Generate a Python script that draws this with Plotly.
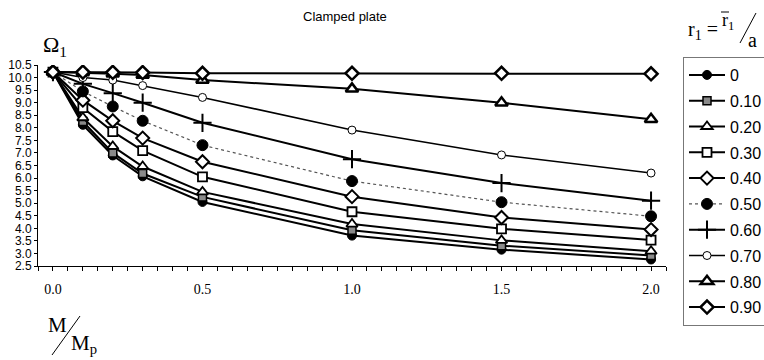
import plotly.graph_objects as go

# ---- data ----
x_vals = [0.0, 0.1, 0.2, 0.3, 0.5, 1.0, 1.5, 2.0]
series_names = ["0", "0.10", "0.20", "0.30", "0.40", "0.50", "0.60", "0.70", "0.80", "0.90"]
r_000 = [10.22, 8.12, 6.90, 6.07, 5.05, 3.71, 3.15, 2.76]
r_010 = [10.22, 8.25, 7.00, 6.18, 5.25, 3.92, 3.31, 2.92]
r_020 = [10.22, 8.40, 7.26, 6.46, 5.45, 4.17, 3.52, 3.09]
r_030 = [10.22, 8.80, 7.85, 7.09, 6.05, 4.66, 3.98, 3.53]
r_040 = [10.22, 9.10, 8.28, 7.59, 6.65, 5.26, 4.43, 3.95]
r_050 = [10.22, 9.45, 8.85, 8.28, 7.31, 5.88, 5.04, 4.48]
r_060 = [10.22, 9.75, 9.38, 9.00, 8.20, 6.75, 5.80, 5.10]
r_070 = [10.22, 10.00, 9.90, 9.68, 9.21, 7.91, 6.92, 6.20]
r_080 = [10.22, 10.20, 10.15, 10.10, 9.90, 9.55, 9.00, 8.34]
r_090 = [10.22, 10.22, 10.21, 10.20, 10.17, 10.17, 10.17, 10.15]
y_series = [r_000, r_010, r_020, r_030, r_040, r_050, r_060, r_070, r_080, r_090]
x_tick_vals = [0.0, 0.5, 1.0, 1.5, 2.0]
x_tick_text = ["0.0", "0.5", "1.0", "1.5", "2.0"]

# ---- styles ----
W, H = 764, 360
L, R, T, B = 38, 666, 65, 266  # plot area in pixels

styles = [
    dict(symbol="circle", size=9, color="black", lc="black", lw=1, line=dict(color="black", width=2, dash="solid")),
    dict(symbol="square", size=8, color="#8a8a8a", lc="black", lw=1.5, line=dict(color="black", width=2, dash="solid")),
    dict(symbol="triangle-up", size=10, color="white", lc="black", lw=1.8, line=dict(color="black", width=2, dash="solid")),
    dict(symbol="square", size=9, color="white", lc="black", lw=1.8, line=dict(color="black", width=2, dash="solid")),
    dict(symbol="diamond", size=10, color="white", lc="black", lw=2, line=dict(color="black", width=2, dash="solid")),
    dict(symbol="circle", size=11, color="black", lc="black", lw=1, line=dict(color="#555555", width=1.2, dash="dot")),
    dict(symbol="cross-thin", size=13, color="black", lc="black", lw=2, line=dict(color="black", width=2, dash="solid")),
    dict(symbol="circle", size=8, color="white", lc="black", lw=1, line=dict(color="black", width=1.6, dash="solid")),
    dict(symbol="triangle-up", size=11, color="white", lc="black", lw=2.5, line=dict(color="black", width=2, dash="solid")),
    dict(symbol="diamond", size=10, color="white", lc="black", lw=2.5, line=dict(color="black", width=2, dash="solid")),
]

fig = go.Figure()
for i, (name, ys, st) in enumerate(zip(series_names, y_series, styles)):
    fig.add_trace(go.Scatter(
        x=x_vals, y=ys, name=name, mode="lines+markers",
        legendgroup=f"g{i}",
        line=st["line"],
        marker=dict(symbol=st["symbol"], size=st["size"], color=st["color"],
                    line=dict(color=st["lc"], width=st["lw"])),
    ))


def px(xp):
    return (xp - L) / (R - L)


def py(yp):
    return (B - yp) / (B - T)


annos = [
    dict(x=px(345), y=py(16), text="Clamped plate", font=dict(family="Arial", size=13, color="black")),
    dict(x=px(55), y=py(46), text="Ω<sub>1</sub>", font=dict(family="Liberation Serif", size=22, color="black")),
    dict(x=px(57), y=py(325), text="M", font=dict(family="Liberation Serif", size=21, color="black")),
    dict(x=px(84), y=py(344), text="M<sub>p</sub>", font=dict(family="Liberation Serif", size=21, color="black")),
    dict(x=px(703), y=py(30), text="r<sub>1</sub> =", font=dict(family="Liberation Serif", size=20, color="black")),
    dict(x=px(728), y=py(22), text="r<sub>1</sub>", font=dict(family="Liberation Serif", size=18, color="black")),
    dict(x=px(752), y=py(40), text="a", font=dict(family="Liberation Serif", size=20, color="black")),
]
for a in annos:
    a.update(xref="paper", yref="paper", showarrow=False, xanchor="center", yanchor="middle")

shapes = [
    dict(type="line", xref="paper", yref="paper", x0=px(52), y0=py(355), x1=px(80), y1=py(316),
         line=dict(color="black", width=1)),
    dict(type="line", xref="paper", yref="paper", x0=px(740), y0=py(43), x1=px(756), y1=py(13),
         line=dict(color="black", width=1)),
    dict(type="line", xref="paper", yref="paper", x0=px(721), y0=py(12), x1=px(729), y1=py(12),
         line=dict(color="black", width=1)),
]

fig.update_layout(
    width=W, height=H,
    margin=dict(l=L, r=W - R, t=T, b=H - B),
    paper_bgcolor="white", plot_bgcolor="white",
    showlegend=True,
    legend=dict(
        xref="container", yref="container",
        x=683 / W, y=1 - 57 / H, xanchor="left", yanchor="top",
        bgcolor="white", bordercolor="#777777", borderwidth=1,
        font=dict(family="Arial", size=16, color="black"),
        tracegroupgap=2, traceorder="grouped",
        itemwidth=36,
        maxheight=300,
    ),
    annotations=annos,
    shapes=shapes,
    xaxis=dict(
        range=[-0.05, 2.05], showgrid=False, zeroline=False, automargin=False,
        showline=True, linecolor="black", linewidth=1,
        tickvals=x_tick_vals, ticktext=x_tick_text,
        ticks="outside", ticklen=4, tickcolor="black",
        minor=dict(dtick=0.05, tick0=0, ticks="outside", ticklen=4, tickcolor="black"),
        ticklabelstandoff=6,
        tickfont=dict(family="Liberation Serif", size=14, color="black"),
    ),
    yaxis=dict(
        range=[2.5, 10.5], dtick=0.5, tick0=2.5, tickformat=".1f", automargin=False,
        showgrid=False, zeroline=False,
        showline=True, linecolor="black", linewidth=1,
        ticks="outside", ticklen=3, tickcolor="black",
        tickfont=dict(family="Arial", size=12, color="black"),
    ),
)

fig.write_html("out.html", config={"displayModeBar": False},
               post_script="document.body.style.margin='0';document.body.style.padding='0';")
